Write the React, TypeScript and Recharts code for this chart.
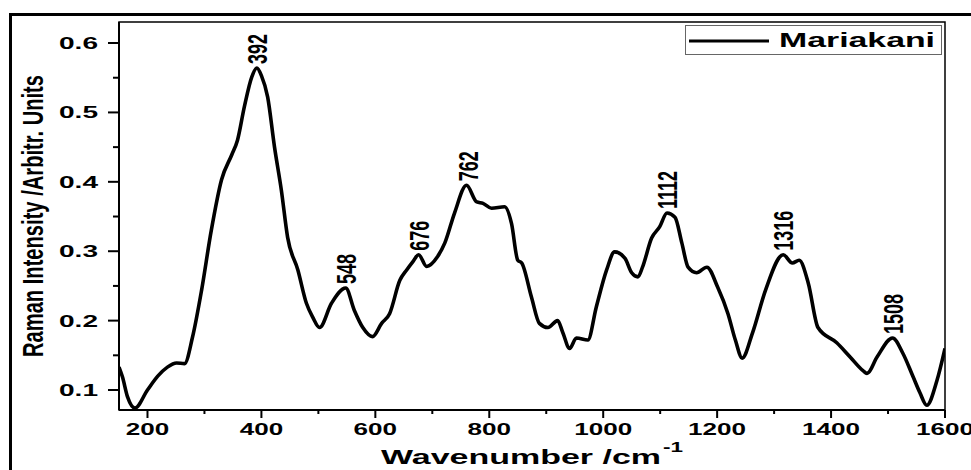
import React from 'react';
import { ComposedChart, Line, Scatter, XAxis, YAxis, ReferenceArea, Legend } from 'recharts';

// Raman spectrum
const wavenumbers = [
  150, 156, 165, 178, 200, 218, 235, 251, 265, 279, 295, 312, 330, 348, 358, 370, 383, 392, 400, 411,
  423, 435, 446, 464, 479, 490, 502, 523, 548, 563, 578, 595, 611, 625, 643, 655, 666, 676, 690, 709,
  722, 739, 760, 778, 789, 804, 827, 839, 850, 857, 874, 888, 903, 920, 929, 941, 953, 973, 988, 1006,
  1020, 1038, 1050, 1061, 1069, 1085, 1099, 1112, 1126, 1138, 1149, 1164, 1182, 1201, 1219, 1232, 1244, 1262, 1285, 1316,
  1332, 1344, 1360, 1377, 1410, 1433, 1456, 1463, 1481, 1508, 1526, 1544, 1556, 1568, 1586, 1600,
];
const intensity = [
  0.133, 0.119, 0.09, 0.074, 0.1, 0.12, 0.133, 0.139, 0.138, 0.176, 0.244, 0.33, 0.403, 0.439, 0.46, 0.508, 0.551, 0.564, 0.553, 0.522,
  0.45, 0.388, 0.32, 0.273, 0.225, 0.205, 0.19, 0.225, 0.247, 0.215, 0.19, 0.177, 0.196, 0.21, 0.258, 0.273, 0.285, 0.295, 0.278, 0.292,
  0.312, 0.355, 0.395, 0.371, 0.369, 0.362, 0.364, 0.34, 0.287, 0.283, 0.234, 0.196, 0.19, 0.2, 0.183, 0.16, 0.175, 0.172, 0.22, 0.273,
  0.299, 0.29, 0.269, 0.263, 0.277, 0.319, 0.335, 0.355, 0.349, 0.312, 0.277, 0.269, 0.277, 0.248, 0.21, 0.172, 0.146, 0.182, 0.244, 0.295,
  0.283, 0.287, 0.254, 0.19, 0.168, 0.148, 0.128, 0.124, 0.148, 0.175, 0.153, 0.119, 0.096, 0.078, 0.114, 0.16,
];

// annotated peaks
const peakPositions = [392, 548, 676, 762, 1112, 1316, 1508];
const peakIntensity = [0.564, 0.247, 0.295, 0.395, 0.355, 0.295, 0.175];

const xTicks = [200, 300, 400, 500, 600, 700, 800, 900, 1000, 1100, 1200, 1300, 1400, 1500, 1600];
const yTicks = [0.1, 0.15, 0.2, 0.25, 0.3, 0.35, 0.4, 0.45, 0.5, 0.55, 0.6];

const X_DOMAIN: [number, number] = [150, 1600];
const Y_DOMAIN: [number, number] = [0.0712, 0.6303];

const spectrum = wavenumbers.map((w, i) => ({ w, v: intensity[i] }));
const peaks = peakPositions.map((w, i) => ({ w, v: peakIntensity[i] }));

const FONT = "'Liberation Sans', Arial, sans-serif";

const XTick = ({ x, y, payload }: any) => {
  const major = payload.value % 200 === 0;
  const label = String(payload.value);
  return (
    <g>
      <line x1={x} x2={x} y1={y} y2={y + (major ? 8 : 4)} stroke="#000" strokeWidth={2} />
      {major && (
        <text x={x} y={y + 25} textAnchor="middle" fontFamily={FONT} fontWeight="bold" fontSize={17}
          fill="#000" textLength={label.length * 14.5} lengthAdjust="spacingAndGlyphs">
          {label}
        </text>
      )}
    </g>
  );
};

const YTick = ({ x, y, payload }: any) => {
  const v = payload.value;
  const major = Math.abs(v * 10 - Math.round(v * 10)) < 1e-6;
  return (
    <g>
      <line x1={x - (major ? 11 : 6)} x2={x} y1={y} y2={y} stroke="#000" strokeWidth={2} />
      {major && (
        <text x={x - 21} y={y + 6} textAnchor="end" fontFamily={FONT} fontWeight="bold" fontSize={16.5}
          fill="#000" textLength={39} lengthAdjust="spacingAndGlyphs">
          {v.toFixed(1)}
        </text>
      )}
    </g>
  );
};

const XLabel = ({ viewBox }: any) => {
  const cx = viewBox.x + viewBox.width / 2;
  return (
    <g>
      <text x={cx - 151} y={viewBox.y + 54} fontFamily={FONT} fontWeight="bold" fontSize={21} fill="#000"
        textLength={280} lengthAdjust="spacingAndGlyphs">
        Wavenumber /cm
      </text>
      <text x={cx + 131} y={viewBox.y + 42} fontFamily={FONT} fontWeight="bold" fontSize={14} fill="#000"
        textLength={20} lengthAdjust="spacingAndGlyphs">
        -1
      </text>
    </g>
  );
};

const YLabel = ({ viewBox }: any) => {
  const bx = viewBox.x + 33;
  const cy = viewBox.y + viewBox.height / 2;
  return (
    <text transform={`translate(${bx},${cy}) rotate(-90) scale(1,1.5)`} textAnchor="middle"
      fontFamily={FONT} fontWeight="bold" fontSize={20} fill="#000" textLength={282} lengthAdjust="spacingAndGlyphs">
      Raman Intensity /Arbitr. Units
    </text>
  );
};

const PeakLabel = ({ cx, cy, payload }: any) => (
  <text transform={`translate(${cx + 10},${cy - 4}) rotate(-90) scale(1,1.5)`} textAnchor="start"
    fontFamily={FONT} fontWeight="bold" fontSize={18} fill="#000">
    {payload.w}
  </text>
);

const LegendBox = () => (
  <svg width={257} height={30} style={{ display: 'block' }}>
    <rect x={0.5} y={0.5} width={256} height={29} fill="#fff" stroke="#666" strokeWidth={1} />
    <line x1={4} x2={84} y1={16} y2={16} stroke="#000" strokeWidth={3} />
    <text x={94} y={22} fontFamily={FONT} fontWeight="bold" fontSize={20} fill="#000"
      textLength={156} lengthAdjust="spacingAndGlyphs">
      Mariakani
    </text>
  </svg>
);

export default function App() {
  return (
    <div style={{ position: 'absolute', left: 0, top: 0, width: 971, height: 470, overflow: 'hidden', background: '#fff' }}>
      <div style={{ position: 'absolute', left: 9, top: 13, width: 1000, height: 500, border: '3px solid #000' }} />
      <div style={{ position: 'absolute', left: 0, top: 0 }}>
        <ComposedChart width={971} height={470} data={spectrum} margin={{ top: 22, right: 26, bottom: 0, left: 10 }}>
          <XAxis dataKey="w" type="number" domain={X_DOMAIN} allowDataOverflow ticks={xTicks} interval={0}
            height={60} tickSize={0} tickMargin={0} tickLine={false} tick={<XTick />}
            axisLine={{ stroke: '#000', strokeWidth: 2 }} label={<XLabel />} />
          <YAxis type="number" domain={Y_DOMAIN} allowDataOverflow ticks={yTicks} interval={0}
            width={109} tickSize={0} tickMargin={0} tickLine={false} tick={<YTick />}
            axisLine={{ stroke: '#000', strokeWidth: 2 }} label={<YLabel />} />
          <ReferenceArea x1={X_DOMAIN[0]} x2={X_DOMAIN[1]} y1={Y_DOMAIN[0]} y2={Y_DOMAIN[1]}
            fill="none" stroke="#000" strokeWidth={1.5} />
          <Legend layout="horizontal" verticalAlign="middle" align="center" content={<LegendBox />}
            wrapperStyle={{ left: 685, top: 25, width: 257, height: 30 }} />
          <Line type="monotone" dataKey="v" stroke="#000" strokeWidth={3.6} dot={false} activeDot={false}
            isAnimationActive={false} name="Mariakani" />
          <Scatter data={peaks} dataKey="v" shape={<PeakLabel />} isAnimationActive={false} legendType="none" />
        </ComposedChart>
      </div>
    </div>
  );
}
